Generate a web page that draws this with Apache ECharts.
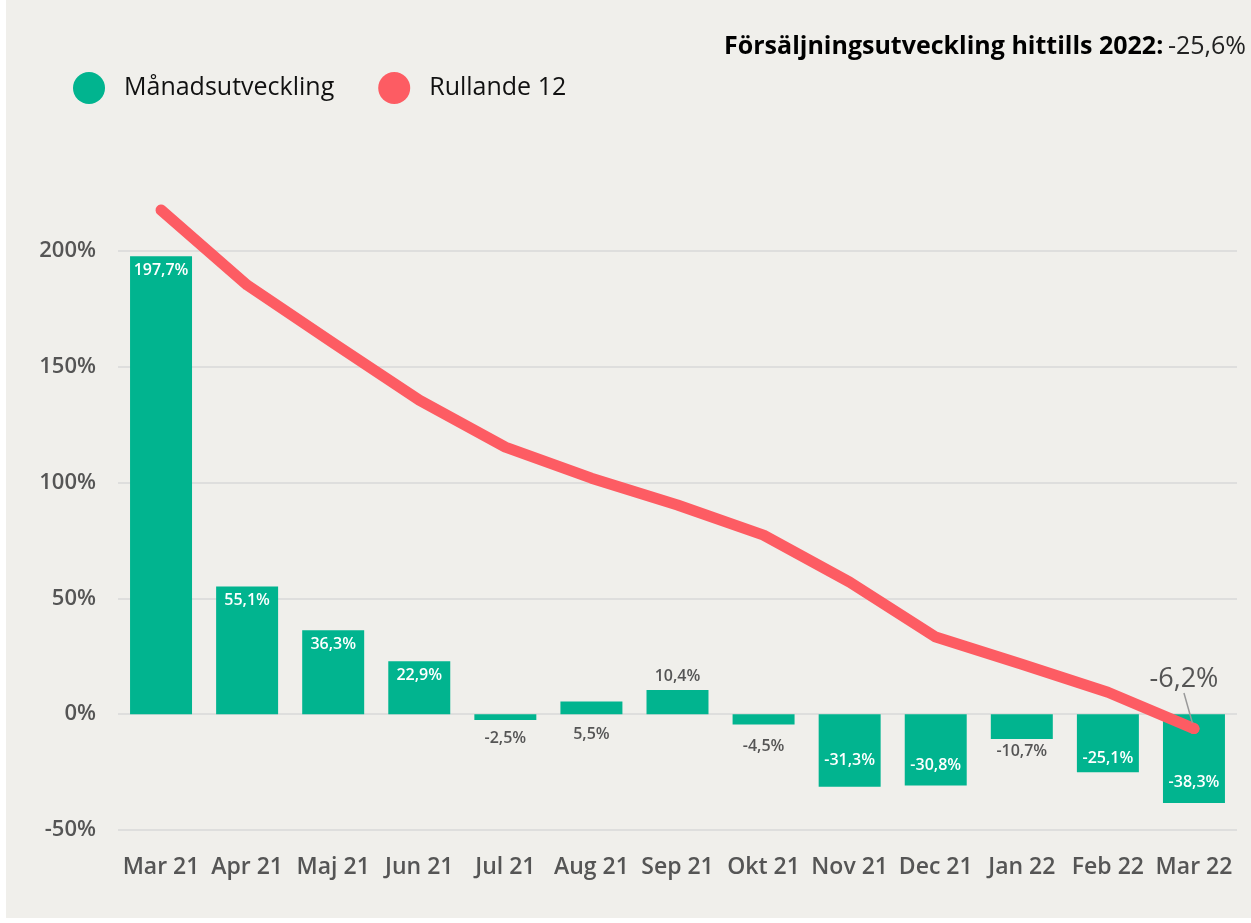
<!DOCTYPE html>
<html>
<head>
<meta charset="utf-8">
<script src="https://cdn.jsdelivr.net/npm/echarts@6/dist/echarts.min.js"></script>
<style>
  html, body { margin: 0; padding: 0; background: #ffffff; }
  #main { position: absolute; left: 6px; top: 0; width: 1245px; height: 918px; background: #f0efeb; }
</style>
</head>
<body>
<div id="main"></div>
<script>
  // data
  var months = ['Mar 21', 'Apr 21', 'Maj 21', 'Jun 21', 'Jul 21', 'Aug 21', 'Sep 21', 'Okt 21', 'Nov 21', 'Dec 21', 'Jan 22', 'Feb 22', 'Mar 22'];
  var monthly = [197.7, 55.1, 36.3, 22.9, -2.5, 5.5, 10.4, -4.5, -31.3, -30.8, -10.7, -25.1, -38.3];
  var rolling = [217.7, 185.3, 160.3, 135.6, 115.3, 101.9, 90.3, 77.3, 57.0, 33.3, 21.6, 9.5, -6.2];
  // where each bar label sits, and how far from the bar
  var labelPos = ['insideTop', 'insideTop', 'insideTop', 'insideTop', 'bottom', 'under', 'top', 'bottom', 'insideBottom', 'insideBottom', 'bottom', 'insideBottom', 'insideBottom'];
  var labelDist = [6, 6, 6, 6, 10, 0, 6, 14, 18, 12, 4, 6, 12];

  var green = '#01b48f';
  var red = '#fd5c63';
  var fmt = function (v) { return String(v.toFixed(1)).replace('.', ',') + '%'; };

  var barData = monthly.map(function (v, i) {
    var p = labelPos[i];
    var inside = p.indexOf('inside') === 0;
    var lab = { color: inside ? '#ffffff' : '#555555', position: p, distance: labelDist[i] };
    if (p === 'under') {
      // positive bar with its label under the zero line
      lab.position = 'insideBottom';
      lab.offset = [0, 28];
    }
    return { value: v, label: lab };
  });

  var chart = echarts.init(document.getElementById('main'));
  chart.setOption({
    backgroundColor: '#f0efeb',
    animation: false,
    textStyle: { fontFamily: 'Open Sans' },
    title: {
      right: 0,
      top: 29,
      text: '{b|Försäljningsutveckling hittills 2022:} {n|-25,6%}',
      textStyle: {
        rich: {
          b: { fontSize: 25, fontWeight: 'bold', color: '#000', fontFamily: 'Open Sans' },
          n: { fontSize: 25, fontWeight: 'normal', color: '#222', fontFamily: 'Open Sans' }
        }
      }
    },
    legend: {
      left: 62,
      top: 67,
      icon: 'circle',
      itemWidth: 32,
      itemHeight: 32,
      itemGap: 44,
      textStyle: { fontSize: 25, color: '#111', padding: [0, 0, 0, 14] },
      data: ['Månadsutveckling', 'Rullande 12']
    },
    grid: { left: 112, right: 14, top: 251, bottom: 88, containLabel: false },
    xAxis: {
      type: 'category',
      data: months,
      axisLine: { show: false },
      axisTick: { show: false },
      axisLabel: { color: '#555', fontSize: 23, fontWeight: 600, margin: 26, interval: 0 }
    },
    yAxis: {
      type: 'value',
      min: -50,
      max: 200,
      interval: 50,
      axisLabel: { color: '#555', fontSize: 22, fontWeight: 600, margin: 22, formatter: '{value}%' },
      splitLine: { lineStyle: { color: '#d9d9d9', width: 1.5 } }
    },
    series: [
      {
        name: 'Månadsutveckling',
        type: 'bar',
        barWidth: '72%',
        itemStyle: { color: green },
        label: {
          show: true,
          fontSize: 16,
          fontWeight: 600,
          formatter: function (p) { return fmt(p.value); }
        },
        data: barData
      },
      {
        name: 'Rullande 12',
        type: 'line',
        clip: false,
        symbol: 'circle',
        symbolSize: 0,
        showSymbol: true,
        lineStyle: { color: red, width: 11, cap: 'round', join: 'round' },
        itemStyle: { color: red },
        data: rolling.map(function (v, i) {
          if (i !== rolling.length - 1) return v;
          return {
            value: v,
            symbolSize: 11,
            label: {
              show: true,
              position: 'top',
              fontSize: 27,
              color: '#555',
              formatter: function (p) { return fmt(p.value); }
            },
            labelLine: { show: true, lineStyle: { color: '#999', width: 1.5 } }
          };
        }),
        labelLayout: { dx: -10, dy: -25 },
        labelLine: { show: true, lineStyle: { color: '#999', width: 1.5 } }
      }
    ]
  });
</script>
</body>
</html>
